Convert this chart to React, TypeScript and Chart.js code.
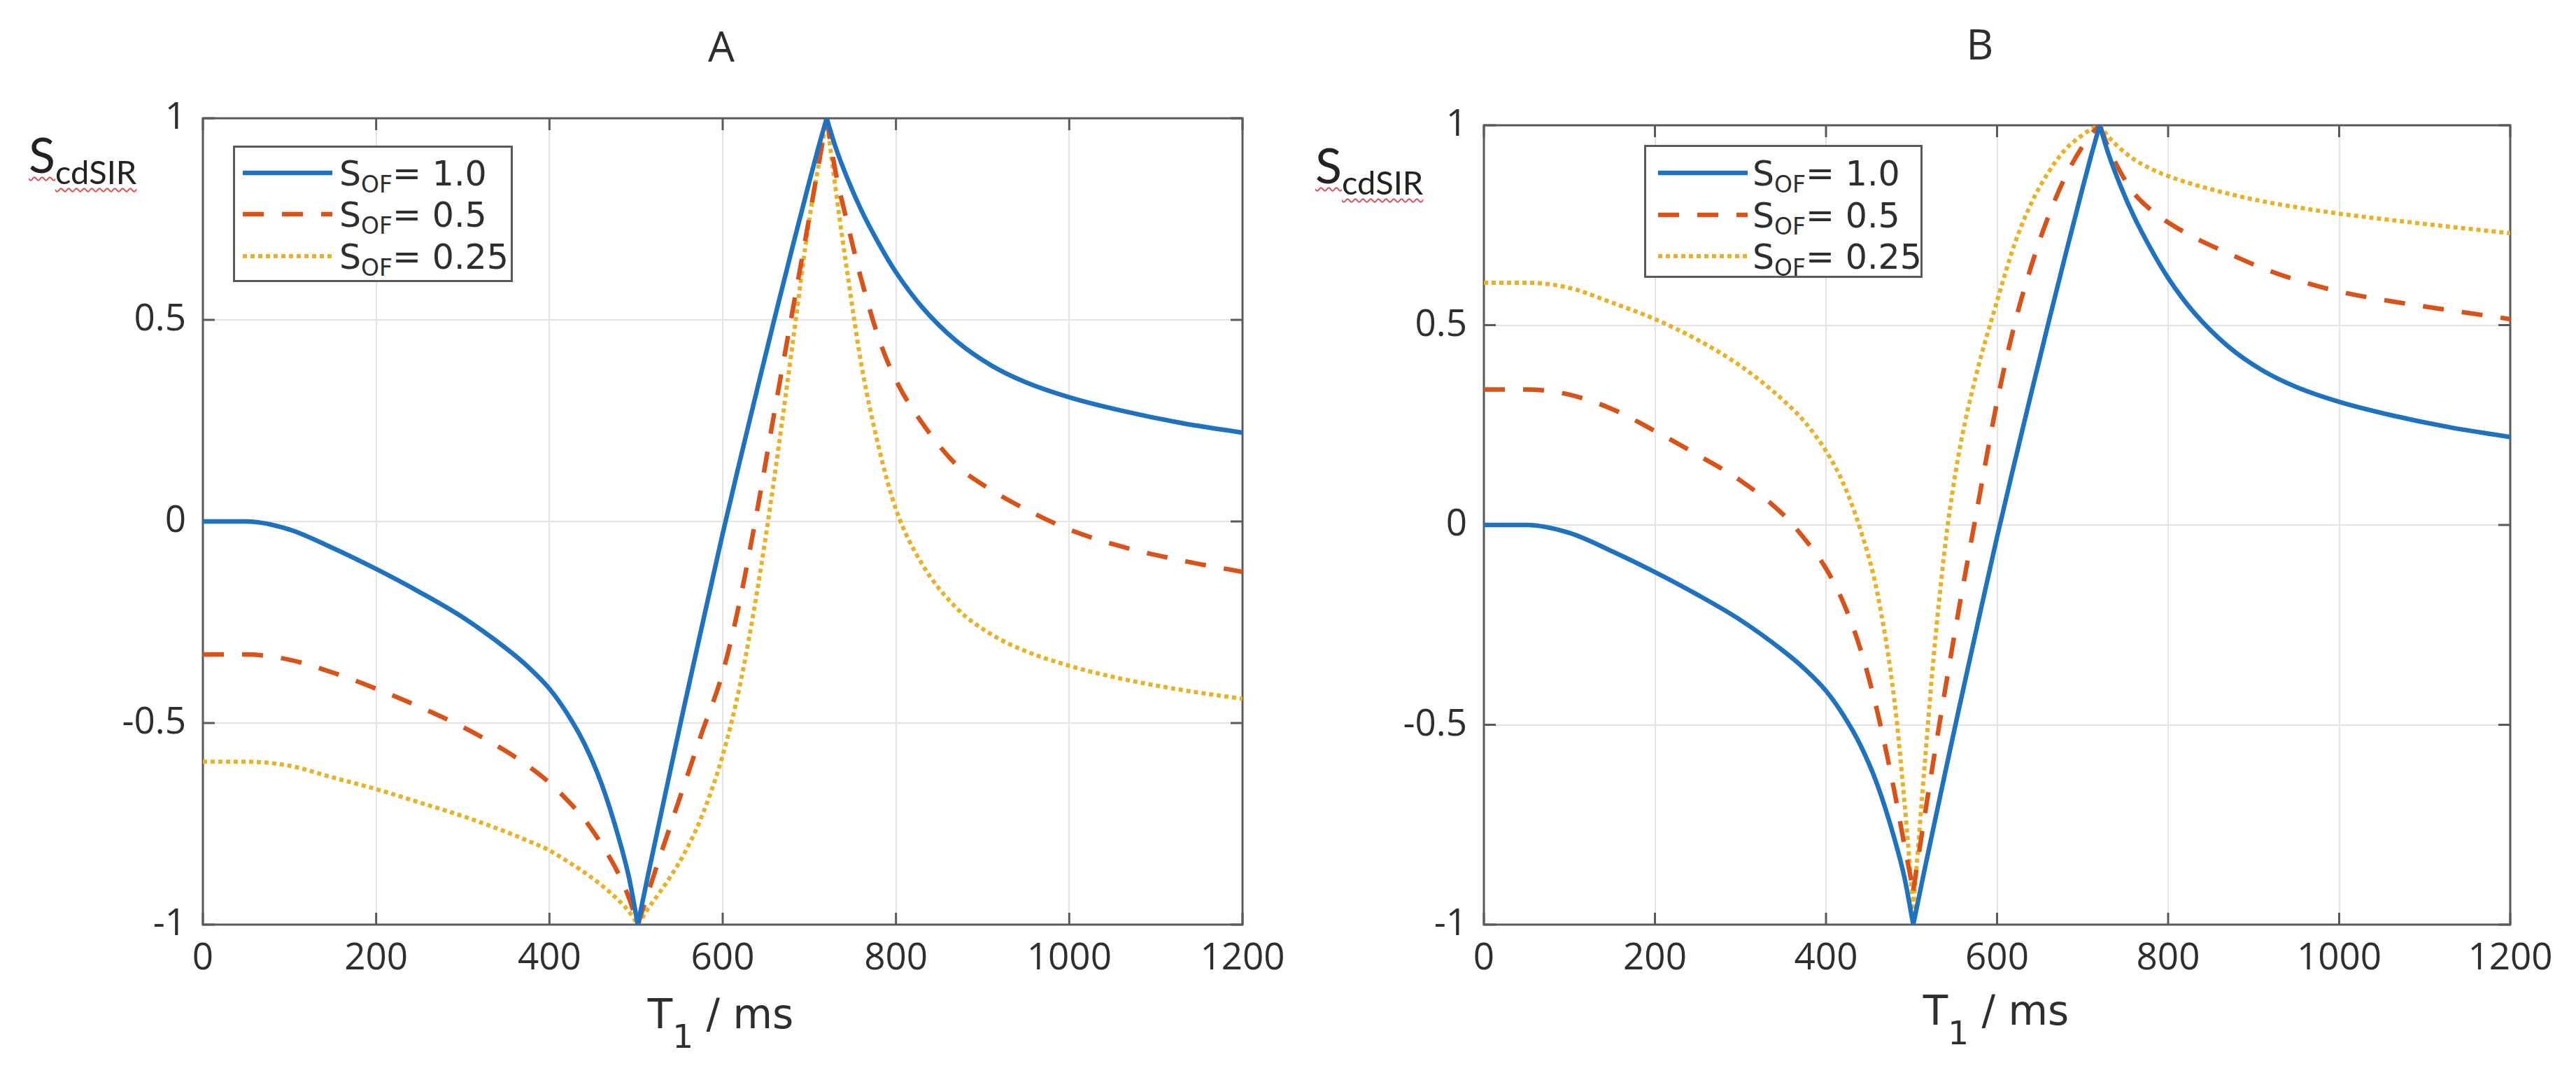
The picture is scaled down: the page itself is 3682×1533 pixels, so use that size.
import { useEffect, useRef } from "react";
import { Chart, registerables } from "chart.js";

Chart.register(...registerables);

// T1 sample positions (ms), shared by every curve
const T1_MS = [
  0, 50, 100, 150, 200, 250, 300, 350, 375, 400, 420, 440, 460, 480, 492, 502,
  515, 525, 540, 555, 575, 600, 620, 640, 660, 680, 700, 710, 720, 730, 745,
  760, 780, 800, 830, 870, 910, 950, 1000, 1060, 1130, 1200,
];
// the curves have sharp corners at these two T1 values
const CUSP_LOW_MS = 502;
const CUSP_HIGH_MS = 720;

// S_OF = 1.0 (same curve in both panels)
const SOF_100 = [
  0, 0, -0.02, -0.066, -0.118, -0.175, -0.238, -0.315, -0.36, -0.415, -0.475,
  -0.55, -0.65, -0.785, -0.885, -1.0, -0.865, -0.764, -0.613, -0.464, -0.27,
  -0.03, 0.152, 0.33, 0.505, 0.676, 0.843, 0.924, 1.0, 0.93, 0.845, 0.772,
  0.69, 0.618, 0.532, 0.447, 0.387, 0.345, 0.308, 0.275, 0.244, 0.22,
];

// panel A
const A_SOF_050 = [
  -0.33, -0.33, -0.343, -0.375, -0.415, -0.46, -0.51, -0.57, -0.606, -0.648,
  -0.69, -0.738, -0.8, -0.875, -0.935, -1.0, -0.914, -0.848, -0.752, -0.657,
  -0.53, -0.375, -0.195, 0.03, 0.275, 0.515, 0.755, 0.877, 1.0, 0.87, 0.73,
  0.6, 0.455, 0.35, 0.245, 0.14, 0.078, 0.03, -0.02, -0.062, -0.097, -0.125,
];
const A_SOF_025 = [
  -0.596, -0.596, -0.606, -0.635, -0.664, -0.697, -0.731, -0.77, -0.792,
  -0.816, -0.842, -0.87, -0.902, -0.94, -0.968, -1.0, -0.957, -0.927, -0.88,
  -0.826, -0.736, -0.58, -0.405, -0.17, 0.115, 0.43, 0.75, 0.875, 1.0, 0.83,
  0.6, 0.39, 0.185, 0.03, -0.105, -0.215, -0.28, -0.322, -0.358, -0.39, -0.418,
  -0.44,
];

// panel B
const B_SOF_050 = [
  0.339, 0.339, 0.326, 0.29, 0.235, 0.175, 0.111, 0.026, -0.035, -0.109,
  -0.193, -0.309, -0.467, -0.667, -0.805, -0.915, -0.733, -0.598, -0.403,
  -0.215, 0.02, 0.308, 0.498, 0.648, 0.772, 0.872, 0.948, 0.978, 1.0, 0.945,
  0.88, 0.83, 0.788, 0.757, 0.72, 0.68, 0.643, 0.613, 0.584, 0.56, 0.537, 0.515,
];
const B_SOF_025 = [
  0.606, 0.606, 0.593, 0.556, 0.515, 0.463, 0.398, 0.312, 0.258, 0.185, 0.105,
  -0.01, -0.17, -0.44, -0.7, -0.96, -0.61, -0.35, -0.04, 0.175, 0.37, 0.56,
  0.7, 0.805, 0.882, 0.94, 0.976, 0.99, 1.0, 0.972, 0.94, 0.915, 0.891, 0.873,
  0.852, 0.829, 0.81, 0.795, 0.779, 0.763, 0.746, 0.73,
];

const X_TICKS = [0, 200, 400, 600, 800, 1000, 1200];
const Y_TICKS = [-1, -0.5, 0, 0.5, 1];
const LEGEND_VALUES = ["1.0", "0.5", "0.25"];

const BLUE = "#1f72bf";
const ORANGE = "#d95319";
const YELLOW = "#e9b124";
const GRID = "#e3e3e3";
const AXIS = "#5a5a5a";
const TEXT = "#2e2e2e";

const LINE_STYLES = [
  { color: BLUE, width: 6.5, dash: [] as number[] },
  { color: ORANGE, width: 6.5, dash: [30, 26] },
  { color: YELLOW, width: 6, dash: [6, 5] },
];

// MATLAB-like box with inward ticks, drawn under the curves
const matlabAxes = {
  id: "matlabAxes",
  beforeDatasetsDraw(chart: any) {
    const { ctx, chartArea, scales } = chart;
    const { left, right, top, bottom } = chartArea;
    const len = 17;
    ctx.save();
    ctx.strokeStyle = AXIS;
    ctx.lineWidth = 3;
    ctx.beginPath();
    X_TICKS.forEach((v) => {
      const px = scales.x.getPixelForValue(v);
      ctx.moveTo(px, bottom);
      ctx.lineTo(px, bottom - len);
      ctx.moveTo(px, top);
      ctx.lineTo(px, top + len);
    });
    Y_TICKS.forEach((v) => {
      const py = scales.y.getPixelForValue(v);
      ctx.moveTo(left, py);
      ctx.lineTo(left + len, py);
      ctx.moveTo(right, py);
      ctx.lineTo(right - len, py);
    });
    ctx.stroke();
    ctx.strokeRect(left, top, right - left, bottom - top);
    ctx.restore();
  },
};

// split a curve at its two corners so the smoothing keeps them sharp
function pieces(values: number[]) {
  const i1 = T1_MS.indexOf(CUSP_LOW_MS);
  const i2 = T1_MS.indexOf(CUSP_HIGH_MS);
  const pts = T1_MS.map((x, j) => ({ x, y: values[j] }));
  return [pts.slice(0, i1 + 1), pts.slice(i1, i2 + 1), pts.slice(i2)];
}

interface PanelProps {
  left: number;
  width: number;
  yWidth: number;
  padding: { left: number; right: number; top: number; bottom: number };
  series: number[][];
}

function Panel({ left, width, yWidth, padding, series }: PanelProps) {
  const canvasRef = useRef<HTMLCanvasElement | null>(null);

  useEffect(() => {
    if (!canvasRef.current) return;
    const tickFont = { family: "'Open Sans', sans-serif", size: 53 };

    const datasets: any[] = [];
    series.forEach((values, i) => {
      pieces(values).forEach((data) => {
        datasets.push({
          label: `S_OF = ${LEGEND_VALUES[i]}`,
          data,
          borderColor: LINE_STYLES[i].color,
          borderWidth: LINE_STYLES[i].width,
          borderDash: LINE_STYLES[i].dash,
          borderCapStyle: "butt",
          borderJoinStyle: "miter",
          pointRadius: 0,
          cubicInterpolationMode: "monotone",
          fill: false,
        });
      });
    });

    const chart = new Chart(canvasRef.current, {
      type: "line",
      data: { datasets },
      options: {
        responsive: false,
        animation: false,
        devicePixelRatio: 1,
        layout: { padding },
        plugins: {
          legend: { display: false },
          tooltip: { enabled: false },
        },
        scales: {
          x: {
            type: "linear",
            min: 0,
            max: 1200,
            afterFit: (s: any) => {
              s.height = 100;
            },
            afterBuildTicks: (s: any) => {
              s.ticks = X_TICKS.map((value) => ({ value }));
            },
            ticks: {
              callback: (v: any) => String(v),
              font: tickFont,
              color: TEXT,
              padding: 17,
              maxRotation: 0,
              autoSkip: false,
            },
            grid: { color: GRID, lineWidth: 2, drawTicks: false },
            border: { display: false },
          },
          y: {
            type: "linear",
            min: -1,
            max: 1,
            afterFit: (s: any) => {
              s.width = yWidth;
            },
            afterBuildTicks: (s: any) => {
              s.ticks = Y_TICKS.map((value) => ({ value }));
            },
            ticks: {
              callback: (v: any) => String(v),
              font: tickFont,
              color: TEXT,
              padding: 24,
            },
            grid: { color: GRID, lineWidth: 2, drawTicks: false },
            border: { display: false },
          },
        },
      } as any,
      plugins: [matlabAxes],
    });

    return () => {
      chart.destroy();
    };
  }, [padding, series, yWidth]);

  return (
    <canvas
      ref={canvasRef}
      width={width}
      height={1533}
      style={{ position: "absolute", left, top: 0, width, height: 1533 }}
    />
  );
}

// text placed by its baseline
function Txt({
  x,
  baseline,
  size,
  family,
  k,
  center,
  children,
}: {
  x: number;
  baseline: number;
  size: number;
  family: string;
  k: number;
  center?: boolean;
  children: any;
}) {
  return (
    <div
      style={{
        position: "absolute",
        left: x,
        top: baseline - size * k,
        fontSize: size,
        fontFamily: family,
        lineHeight: 1,
        whiteSpace: "nowrap",
        color: TEXT,
        transform: center ? "translateX(-50%)" : undefined,
      }}
    >
      {children}
    </div>
  );
}

const OPEN = "'Open Sans', sans-serif";
const DEJAVU = "'DejaVu Sans', sans-serif";
const LATO = "Lato, sans-serif";

function YLabel({ x, baseline }: { x: number; baseline: number }) {
  const wave = {
    textDecorationLine: "underline",
    textDecorationStyle: "wavy",
    textDecorationColor: "#e2464b",
    textDecorationThickness: "2px",
    textUnderlineOffset: "5px",
  } as any;
  return (
    <Txt x={x} baseline={baseline} size={70} family={LATO} k={0.887}>
      <span style={{ ...wave, color: "#222" }}>S</span>
      <span
        style={{
          ...wave,
          fontSize: 47,
          position: "relative",
          top: 16,
          color: "#222",
        }}
      >
        cdSIR
      </span>
    </Txt>
  );
}

function XLabel({ x, baseline }: { x: number; baseline: number }) {
  return (
    <Txt x={x} baseline={baseline} size={58} family={DEJAVU} k={0.846} center>
      T
      <span style={{ fontSize: 47, position: "relative", top: 28 }}>1</span>
      {" / ms"}
    </Txt>
  );
}

function Legend({
  left,
  top,
  width,
  height,
  swatchX,
  textX,
  rows,
}: {
  left: number;
  top: number;
  width: number;
  height: number;
  swatchX: number;
  textX: number;
  rows: number[];
}) {
  return (
    <div
      style={{
        position: "absolute",
        left,
        top,
        width,
        height,
        boxSizing: "border-box",
        border: `3px solid ${AXIS}`,
        background: "#fff",
      }}
    >
      {LEGEND_VALUES.map((val, i) => (
        <div key={val}>
          <svg
            width={128}
            height={14}
            style={{
              position: "absolute",
              left: swatchX - 3,
              top: rows[i] - 7 - 3,
            }}
          >
            <line
              x1={0}
              y1={7}
              x2={128}
              y2={7}
              stroke={LINE_STYLES[i].color}
              strokeWidth={LINE_STYLES[i].width}
              strokeDasharray={
                LINE_STYLES[i].dash.length
                  ? LINE_STYLES[i].dash.join(" ")
                  : undefined
              }
            />
          </svg>
          <Txt
            x={textX - 3}
            baseline={rows[i] + 18 - 3}
            size={49}
            family={DEJAVU}
            k={0.846}
          >
            S
            <span style={{ fontSize: 33, position: "relative", top: 10 }}>
              OF
            </span>
            {"= " + val}
          </Txt>
        </div>
      ))}
    </div>
  );
}

const PAD_A = { left: 90, right: 124, top: 169, bottom: 112 };
const PAD_B = { left: 11, right: 94, top: 179, bottom: 112 };
const SERIES_A = [SOF_100, A_SOF_050, A_SOF_025];
const SERIES_B = [SOF_100, B_SOF_050, B_SOF_025];

export default function App() {
  return (
    <div
      style={{
        position: "absolute",
        left: 0,
        top: 0,
        width: 3682,
        height: 1533,
        background: "#fff",
        overflow: "hidden",
      }}
    >
      <Panel left={0} width={1900} yWidth={200} padding={PAD_A} series={SERIES_A} />
      <Panel left={1950} width={1732} yWidth={160} padding={PAD_B} series={SERIES_B} />

      <Txt x={1031} baseline={88} size={60} family={OPEN} k={0.888} center>
        A
      </Txt>
      <Txt x={2830} baseline={85} size={60} family={OPEN} k={0.888} center>
        B
      </Txt>

      <YLabel x={41} baseline={247} />
      <YLabel x={1880} baseline={262} />

      <XLabel x={1030} baseline={1469} />
      <XLabel x={2853} baseline={1464} />

      <Legend
        left={333}
        top={208}
        width={400}
        height={195}
        swatchX={14}
        textX={152}
        rows={[39, 98, 158]}
      />
      <Legend
        left={2350}
        top={207}
        width={398}
        height={190}
        swatchX={20}
        textX={155}
        rows={[40, 100, 159]}
      />
    </div>
  );
}
